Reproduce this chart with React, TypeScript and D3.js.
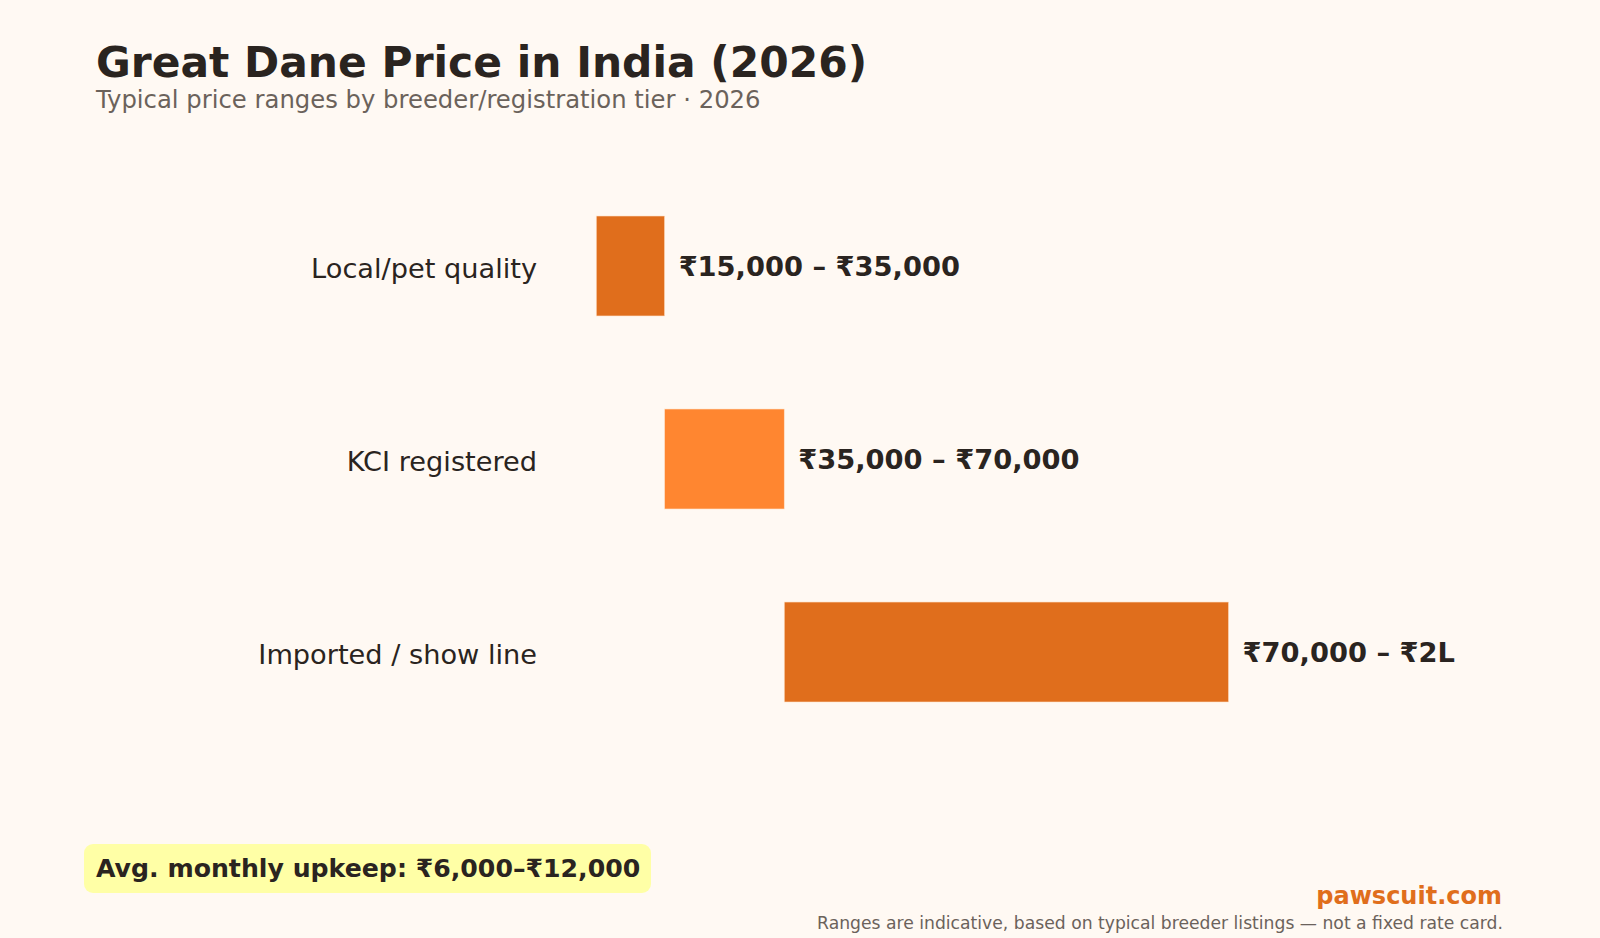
import { useEffect, useRef } from 'react';
import * as d3 from 'd3';

const tiers = ['Local/pet quality', 'KCI registered', 'Imported / show line'];
const lowPrices = [15000, 35000, 70000];
const highPrices = [35000, 70000, 200000];
const rangeLabels = ['₹15,000 – ₹35,000', '₹35,000 – ₹70,000', '₹70,000 – ₹2L'];
const barColors = ['#E06E1C', '#FF8630', '#E06E1C'];

const W = 1600;
const H = 938;
const FONT = '"DejaVu Sans", sans-serif';

const App = () => {
  const ref = useRef<SVGSVGElement | null>(null);

  useEffect(() => {
    const svg = d3.select(ref.current);
    svg.selectAll('*').remove();

    svg.append('rect').attr('width', W).attr('height', H).attr('fill', '#FFF9F3');

    const x = d3.scaleLinear().domain([0, 280000]).range([545, 1502]);
    const y = d3.scaleBand().domain(tiers).range([119.5, 798.5]).paddingInner(0.482).paddingOuter(0.5);

    const rows = tiers.map((t, i) => ({
      tier: t,
      lo: lowPrices[i],
      hi: highPrices[i],
      label: rangeLabels[i],
      color: barColors[i],
    }));

    // title block
    svg.append('text')
      .attr('x', 96).attr('y', 77)
      .attr('font-family', FONT).attr('font-size', 42.4).attr('font-weight', 'bold')
      .attr('fill', '#2A2420')
      .text('Great Dane Price in India (2026)');

    svg.append('text')
      .attr('x', 96).attr('y', 107.5)
      .attr('font-family', FONT).attr('font-size', 24.3)
      .attr('fill', '#6B625B')
      .text('Typical price ranges by breeder/registration tier · 2026');

    const g = svg.append('g');

    g.selectAll('rect.bar')
      .data(rows)
      .enter()
      .append('rect')
      .attr('class', 'bar')
      .attr('x', d => x(d.lo))
      .attr('y', d => y(d.tier)!)
      .attr('width', d => x(d.hi) - x(d.lo))
      .attr('height', y.bandwidth())
      .attr('fill', d => d.color)
      .attr('stroke', '#FFE2C8')
      .attr('stroke-width', 0.6);

    g.selectAll('text.tier')
      .data(rows)
      .enter()
      .append('text')
      .attr('class', 'tier')
      .attr('x', 537)
      .attr('y', d => y(d.tier)! + y.bandwidth() / 2 + 2)
      .attr('dy', '0.35em')
      .attr('text-anchor', 'end')
      .attr('font-family', FONT).attr('font-size', 27.2)
      .attr('fill', '#2A2420')
      .text(d => d.tier);

    g.selectAll('text.range')
      .data(rows)
      .enter()
      .append('text')
      .attr('class', 'range')
      .attr('x', d => x(d.hi) + 14)
      .attr('y', d => y(d.tier)! + y.bandwidth() / 2)
      .attr('dy', '0.35em')
      .attr('font-family', FONT).attr('font-size', 27.3).attr('font-weight', 'bold')
      .attr('fill', '#2A2420')
      .text(d => d.label);

    // upkeep callout
    svg.append('rect')
      .attr('x', 84).attr('y', 844).attr('width', 567).attr('height', 49)
      .attr('rx', 9)
      .attr('fill', '#FFFFA6');
    svg.append('text')
      .attr('x', 96).attr('y', 868)
      .attr('dy', '0.35em')
      .attr('font-family', FONT).attr('font-size', 25.2).attr('font-weight', 'bold')
      .attr('fill', '#2A2420')
      .text('Avg. monthly upkeep: ₹6,000–₹12,000');

    svg.append('text')
      .attr('x', 1502).attr('y', 904)
      .attr('text-anchor', 'end')
      .attr('font-family', FONT).attr('font-size', 24).attr('font-weight', 'bold')
      .attr('fill', '#E06E1C')
      .text('pawscuit.com');

    svg.append('text')
      .attr('x', 1503).attr('y', 929)
      .attr('text-anchor', 'end')
      .attr('font-family', FONT).attr('font-size', 17.2)
      .attr('fill', '#6B625B')
      .text('Ranges are indicative, based on typical breeder listings — not a fixed rate card.');
  }, []);

  return (
    <svg
      ref={ref}
      width={W}
      height={H}
      style={{ position: 'absolute', left: 0, top: 0, display: 'block' }}
    />
  );
};

export default App;
